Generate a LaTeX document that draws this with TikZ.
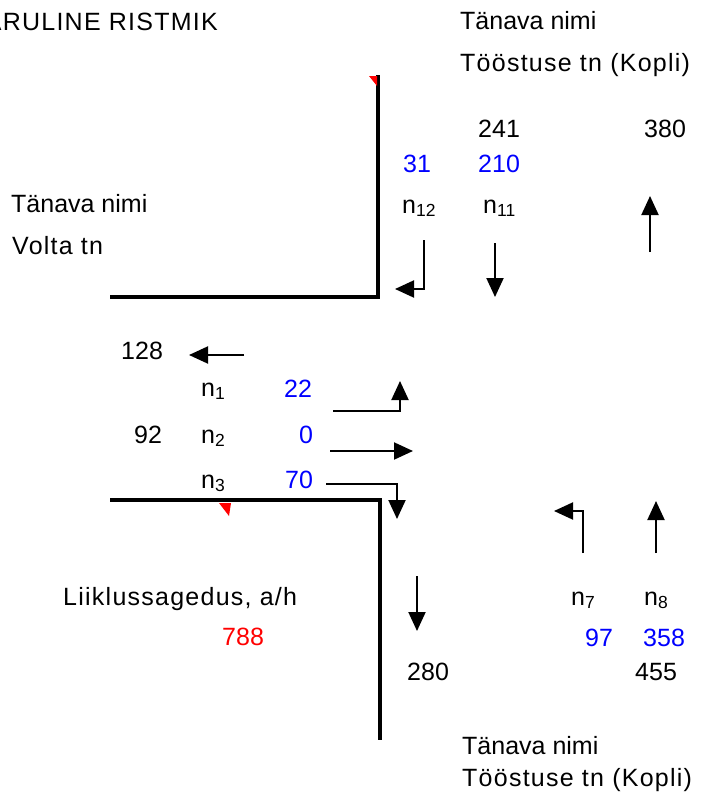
\documentclass[tikz,border=0pt]{standalone}
\usepackage{fontspec}
\setmainfont{Liberation Sans}
\usetikzlibrary{arrows.meta}
\definecolor{qblue}{RGB}{0,0,255}
\definecolor{qred}{RGB}{255,0,0}
\begin{document}
\begin{tikzpicture}[x=1pt,y=-1pt,
  txt/.style={anchor=base west,inner sep=0pt,font=\fontsize{25}{30}\selectfont},
  wtxt/.style={txt,font=\fontsize{25}{30}\selectfont\addfontfeatures{LetterSpace=5}},
  bl/.style={txt,text=qblue},
  rd/.style={txt,text=qred},
  road/.style={line width=4pt,line join=miter},
  flow/.style={line width=2pt,-{Triangle[length=19pt,width=17pt]}},
  redtick/.style={fill=qred,draw=none}]
\useasboundingbox (0,0) rectangle (718,792);
% roads
\coordinate (r1) at (378,75);
\coordinate (r2) at (378,297);
\coordinate (r3) at (110,297);
\coordinate (r4) at (110,500);
\coordinate (r5) at (380,500);
\coordinate (r6) at (380,740);
\draw[road] (r1) -- (r2) -- (r3);
\draw[road] (r4) -- (r5) -- (r6);
\fill[redtick] (369,76) -- (377,76) -- (377,86) -- cycle;
\fill[redtick] (219,503) -- (231,503) -- (229,516) -- cycle;
% texts
\node[wtxt,anchor=base east] (title) at (218,31) {ARULINE RISTMIK};
\node[txt] (tn1) at (460,30) {Tänava nimi};
\node[wtxt] (tt1) at (460,71) {Tööstuse tn (Kopli)};
\node[txt] (v241) at (478,137) {241};
\node[txt] (v380) at (644,137) {380};
\node[bl] (v31) at (403,172) {31};
\node[bl] (v210) at (478,172) {210};
\node[txt] (n12) at (402,213) {n\textsubscript{12}};
\node[txt] (n11) at (483,213) {n\textsubscript{11}};
\node[txt] (tn2) at (11,212) {Tänava nimi};
\node[wtxt] (volta) at (12,254) {Volta tn};
\node[txt] (v128) at (121,359) {128};
\node[txt] (n1) at (201,396) {n\textsubscript{1}};
\node[bl] (v22) at (284,397) {22};
\node[txt] (v92) at (134,443) {92};
\node[txt] (n2) at (201,443) {n\textsubscript{2}};
\node[bl] (v0) at (299,443) {0};
\node[txt] (n3) at (201,488) {n\textsubscript{3}};
\node[bl] (v70) at (285,488) {70};
\node[wtxt] (liik) at (63,605) {Liiklussagedus, a/h};
\node[rd] (v788) at (222,645) {788};
\node[txt] (v280) at (407,680) {280};
\node[txt] (n7) at (571,605) {n\textsubscript{7}};
\node[txt] (n8) at (644,605) {n\textsubscript{8}};
\node[bl] (v97) at (585,646) {97};
\node[bl] (v358) at (643,646) {358};
\node[txt] (v455) at (635,680) {455};
\node[txt] (tn3) at (462,754) {Tänava nimi};
\node[wtxt] (tt3) at (462,786) {Tööstuse tn (Kopli)};
% arrows
\coordinate (a12s) at (424,240); \coordinate (a12c) at (424,289); \coordinate (a12e) at (395,289);
\draw[flow] (a12s) -- (a12c) -- (a12e);
\coordinate (a11s) at (495,243); \coordinate (a11e) at (495,297);
\draw[flow] (a11s) -- (a11e);
\coordinate (a380s) at (650,252); \coordinate (a380e) at (650,196);
\draw[flow] (a380s) -- (a380e);
\coordinate (a128s) at (244,355); \coordinate (a128e) at (189,355);
\draw[flow] (a128s) -- (a128e);
\coordinate (a1s) at (333,411); \coordinate (a1c) at (400,411); \coordinate (a1e) at (400,381);
\draw[flow] (a1s) -- (a1c) -- (a1e);
\coordinate (a2s) at (330,451); \coordinate (a2e) at (413,451);
\draw[flow] (a2s) -- (a2e);
\coordinate (a3s) at (326,484); \coordinate (a3c) at (397,484); \coordinate (a3e) at (397,519);
\draw[flow] (a3s) -- (a3c) -- (a3e);
\coordinate (a280s) at (417,576); \coordinate (a280e) at (417,631);
\draw[flow] (a280s) -- (a280e);
\coordinate (a7s) at (583,553); \coordinate (a7c) at (583,511); \coordinate (a7e) at (554,511);
\draw[flow] (a7s) -- (a7c) -- (a7e);
\coordinate (a8s) at (656,553); \coordinate (a8e) at (656,501);
\draw[flow] (a8s) -- (a8e);
\end{tikzpicture}
\end{document}
